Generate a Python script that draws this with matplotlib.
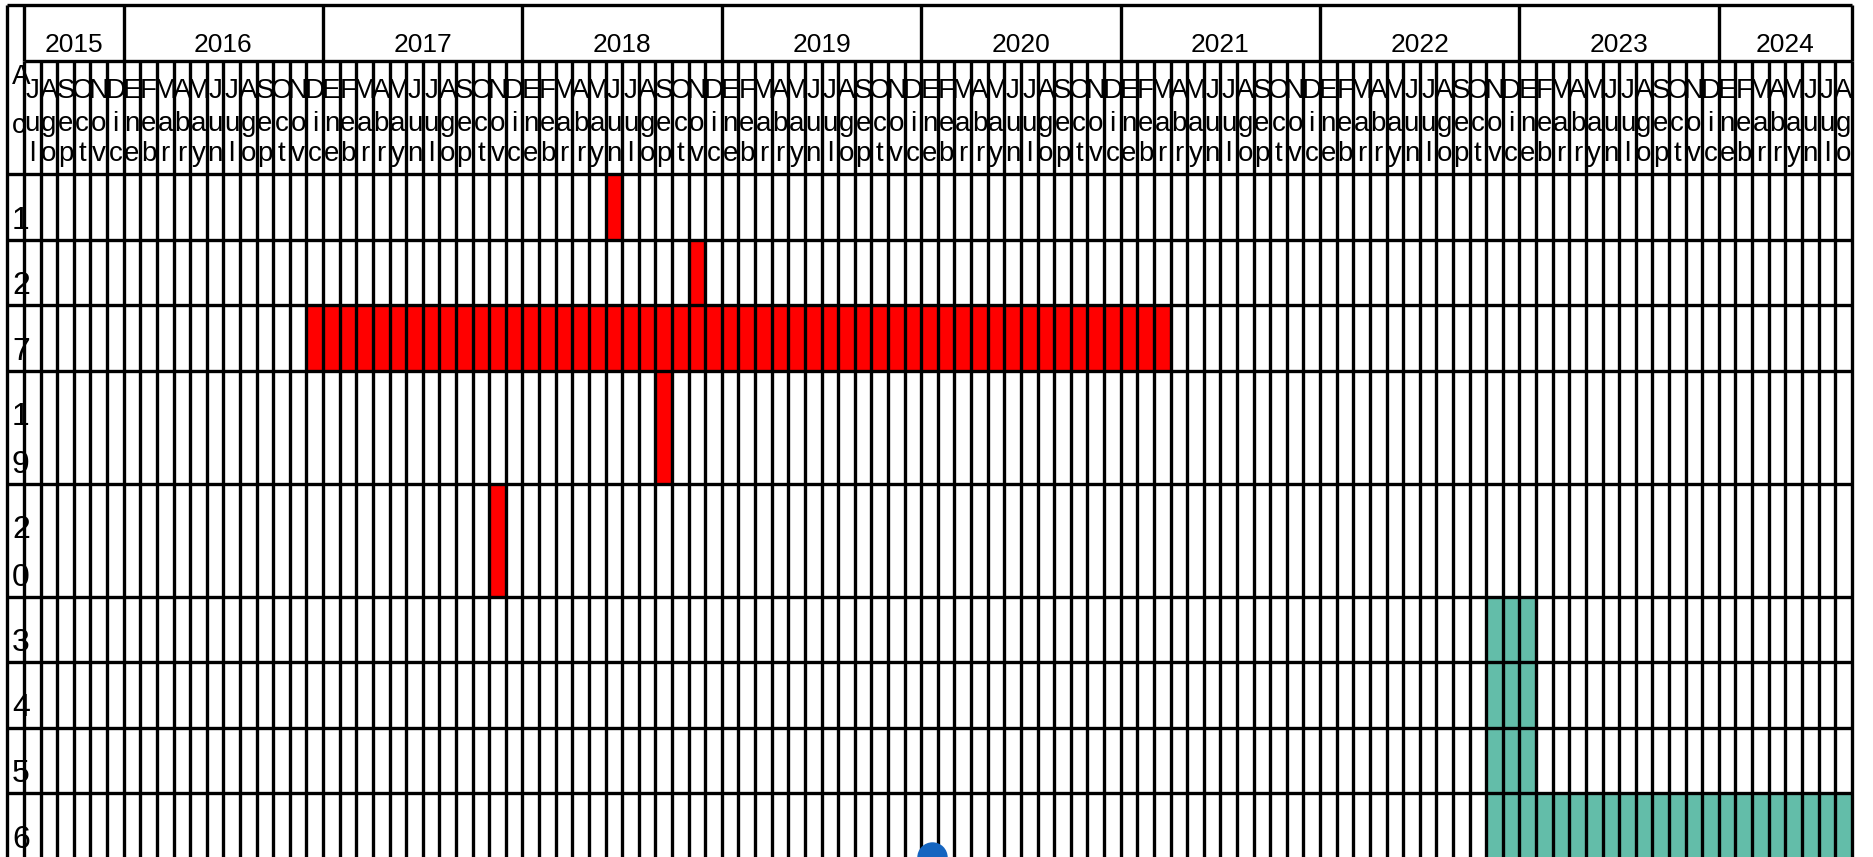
"""Month-grid timeline (Jul 2015 - Aug 2024), one row per task id."""
import matplotlib.pyplot as plt
import pandas as pd

plt.rcParams["font.family"] = ["Liberation Sans", "DejaVu Sans"]

# ---- data ----
first_month = "2015-07"
last_month = "2024-08"
month_abbr = ["Ene", "Feb", "Mar", "Abr", "May", "Jun",
              "Jul", "Ago", "Sep", "Oct", "Nov", "Dic"]
header_label = "Ac"
task_ids = ["1", "2", "7", "19", "20", "3", "4", "5", "6"]
task_start = ["2018-06", "2018-11", "2016-12", "2018-09", "2017-11",
              "2022-11", "2022-11", "2022-11", "2022-11"]
task_end = ["2018-06", "2018-11", "2021-03", "2018-09", "2017-11",
            "2023-01", "2023-01", "2023-01", "2024-08"]
task_color = ["#ff0000", "#ff0000", "#ff0000", "#ff0000", "#ff0000",
              "#63bda9", "#63bda9", "#63bda9", "#63bda9"]

# ---- layout (y axis is in pixels from the top, x in months) ----
W, H = 1874, 857
COL_PX = 16.616          # width of one month column
X0_PX = 24               # left edge of the first month column
FIRST_COL_W = 17 / COL_PX
TOP = 5
YEAR_BOTTOM = 61
HEAD_BOTTOM = 174
ROW_H1 = 65.5            # row with one label line
ROW_HX = 47.5            # each extra label line
LW = 2.4
FS = 20
FS_ROW = 23

months = pd.period_range(first_month, last_month, freq="M")
n = len(months)

fig = plt.figure(figsize=(W / 100, H / 100), dpi=100)
ax = fig.add_axes([0, 0, 1, 1])
ax.set_xlim(-X0_PX / COL_PX, (W - X0_PX) / COL_PX)
ax.set_ylim(H, 0)
ax.axis("off")

# row boundaries
edges = [HEAD_BOTTOM]
for t in task_ids:
    edges.append(edges[-1] + ROW_H1 + ROW_HX * (len(t) - 1))

# filled cells
for i, (t, s, e, c) in enumerate(zip(task_ids, task_start, task_end, task_color)):
    si = months.get_loc(pd.Period(s, "M"))
    ei = months.get_loc(pd.Period(e, "M"))
    ax.barh(edges[i], ei - si + 1, left=si, height=edges[i + 1] - edges[i],
            align="edge", color=c, linewidth=0, zorder=1)

# grid: month lines, year lines, borders
ax.vlines(range(n + 1), YEAR_BOTTOM, H, color="black", lw=LW, zorder=3)
years = months.year
year_starts = [0] + [k for k in range(1, n) if years[k] != years[k - 1]] + [n]
ax.vlines(year_starts, TOP, YEAR_BOTTOM, color="black", lw=LW, zorder=3)
ax.vlines(-FIRST_COL_W, TOP, H, color="black", lw=LW, zorder=3)
ax.hlines(TOP, -FIRST_COL_W, n, color="black", lw=LW, zorder=3)
ax.hlines(YEAR_BOTTOM, 0, n, color="black", lw=LW, zorder=3)
ax.hlines(edges, -FIRST_COL_W, n, color="black", lw=LW, zorder=3)

# year labels
for a, b in zip(year_starts[:-1], year_starts[1:]):
    ax.text((a + b) / 2, 52, str(years[a]), ha="center", va="baseline",
            fontsize=FS - 1, zorder=4)

# month labels, one letter per line (wrapped by the narrow column)
for k, m in enumerate(months):
    for j, ch in enumerate(month_abbr[m.month - 1]):
        ax.text(k + 0.5, [98, 131, 161][j], ch, ha="center", va="baseline",
                fontsize=FS, zorder=4)

# first-column header and row labels
lab_x = (12 - X0_PX) / COL_PX
for j, ch in enumerate(header_label):
    ax.text(lab_x, [84, 133][j], ch, ha="left", va="baseline", fontsize=FS, zorder=4)
for i, t in enumerate(task_ids):
    base = edges[i + 1] - 11
    for j, ch in enumerate(t):
        ax.text(lab_x, base - ROW_HX * (len(t) - 1 - j), ch, ha="left",
                va="baseline", fontsize=FS_ROW, zorder=4)

# small blue handle at the bottom edge
ax.scatter([(932 - X0_PX) / COL_PX], [857], s=480, color="#1565c0",
           linewidth=0, zorder=5, clip_on=True)

fig.savefig("out.png", dpi=100)
